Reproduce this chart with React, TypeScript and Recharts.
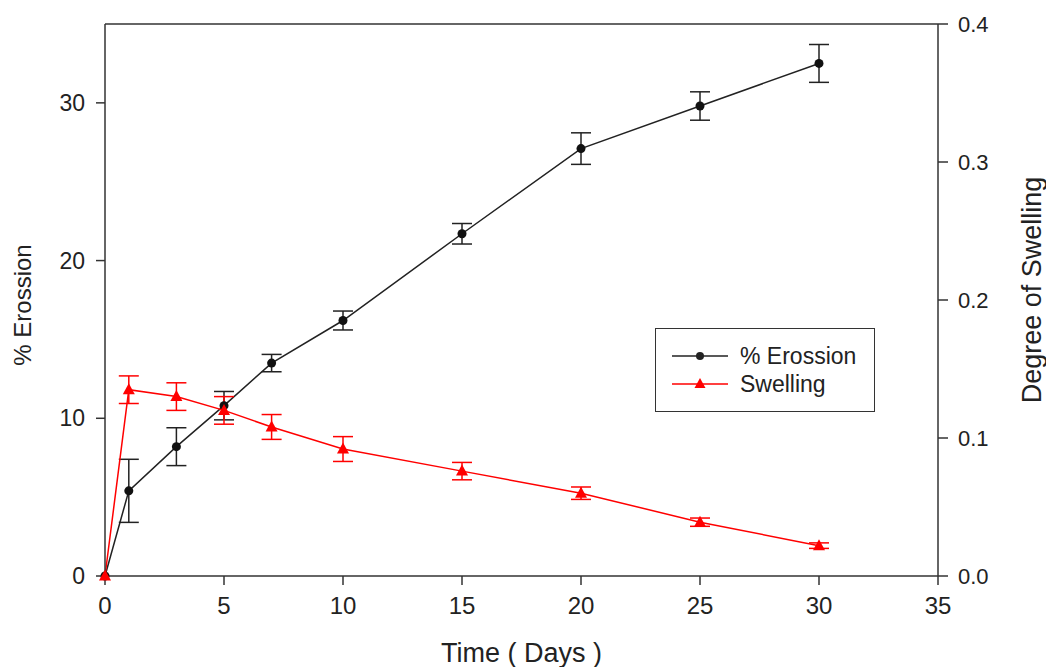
import { LineChart, Line, XAxis, YAxis, ErrorBar, ReferenceLine, Legend } from 'recharts';

/* --- data --- */

const days = [0, 1, 3, 5, 7, 10, 15, 20, 25, 30];
const erosion = [0, 5.4, 8.2, 10.8, 13.5, 16.2, 21.7, 27.1, 29.8, 32.5];
const erosionErr = [0, 2.0, 1.2, 0.9, 0.55, 0.6, 0.65, 1.0, 0.9, 1.2];
const swelling = [0, 0.135, 0.13, 0.12, 0.108, 0.092, 0.076, 0.06, 0.039, 0.022];
const swellingErr = [0, 0.01, 0.01, 0.01, 0.009, 0.009, 0.0063, 0.0045, 0.003, 0.002];

const xTicks = [0, 5, 10, 15, 20, 25, 30, 35];
const leftTicks = [0, 10, 20, 30];
const rightTicks = [0, 0.1, 0.2, 0.3, 0.4];

const data = days.map((d, i) => ({
    day: d,
    erosion: erosion[i],
    erosionErr: erosionErr[i],
    swelling: swelling[i],
    swellingErr: swellingErr[i],
}));

const FONT = "'Liberation Sans', Arial, sans-serif";
const AXIS = '#333';

function Triangle({ cx, cy, index }: any) {
    if (cx == null || cy == null) return null;
    return (
        <polygon
            key={`tri-${index}`}
            points={`${cx},${cy - 6.5} ${cx - 6},${cy + 4.5} ${cx + 6},${cy + 4.5}`}
            fill="#ff0000"
        />
    );
}

function LegendBox() {
    const rows = [
        { label: '% Erossion', color: '#222', marker: 'dot' },
        { label: 'Swelling', color: '#ff0000', marker: 'tri' },
    ];
    return (
        <div style={{ width: 220, height: 84, border: '1.5px solid #333', boxSizing: 'border-box', background: '#fff', position: 'relative' }}>
            {rows.map((r, i) => (
                <div key={r.label} style={{ position: 'absolute', left: 16, top: 14 + i * 28, height: 26, display: 'flex', alignItems: 'center' }}>
                    <svg width={56} height={24}>
                        <line x1={0} y1={12} x2={56} y2={12} stroke={r.color} strokeWidth={1.5} />
                        {r.marker === 'dot'
                            ? <circle cx={28} cy={12} r={4} fill={r.color} />
                            : <polygon points="28,6 22.5,16 33.5,16" fill={r.color} />}
                    </svg>
                    <span style={{ marginLeft: 12, fontFamily: FONT, fontSize: 23, color: '#222' }}>{r.label}</span>
                </div>
            ))}
        </div>
    );
}

export default function App() {
    return (
        <div style={{ position: 'absolute', left: 0, top: 0, width: 1046, height: 667, background: '#fff' }}>
            <LineChart width={1046} height={667} data={data} margin={{ top: 24, right: 0, left: 0, bottom: 0 }}>
                <XAxis
                    dataKey="day"
                    type="number"
                    domain={[0, 35]}
                    ticks={xTicks}
                    height={91}
                    tickSize={9}
                    tickMargin={12}
                    stroke={AXIS}
                    strokeWidth={1.5}
                    tick={{ fontSize: 24, fontFamily: FONT, fill: '#222' }}
                    label={{ value: 'Time ( Days )', position: 'insideBottom', offset: 5, fontSize: 27, fontFamily: FONT, fill: '#222' }}
                />
                <YAxis
                    yAxisId="left"
                    domain={[0, 35]}
                    ticks={leftTicks}
                    width={105}
                    tickSize={9}
                    tickMargin={11}
                    stroke={AXIS}
                    strokeWidth={1.5}
                    tick={{ fontSize: 23, fontFamily: FONT, fill: '#222' }}
                    label={{ value: '% Erossion', angle: -90, position: 'insideLeft', offset: 22, dy: 5, fontSize: 24, fontFamily: FONT, fill: '#222', style: { textAnchor: 'middle' } }}
                />
                <YAxis
                    yAxisId="right"
                    orientation="right"
                    domain={[0, 0.4]}
                    ticks={rightTicks}
                    width={108}
                    tickSize={10}
                    tickMargin={10}
                    stroke={AXIS}
                    strokeWidth={1.5}
                    tickFormatter={(v: number) => v.toFixed(1)}
                    tick={{ fontSize: 22, fontFamily: FONT, fill: '#222' }}
                    label={{ value: 'Degree of Swelling', angle: -90, position: 'insideRight', offset: 15, dy: -10, fontSize: 27, fontFamily: FONT, fill: '#222', style: { textAnchor: 'middle' } }}
                />
                <ReferenceLine yAxisId="left" y={35} stroke={AXIS} strokeWidth={1.5} />
                <Line
                    yAxisId="left"
                    dataKey="erosion"
                    name="% Erossion"
                    stroke="#222"
                    strokeWidth={1.5}
                    dot={{ r: 4.5, fill: '#111', stroke: 'none' }}
                    isAnimationActive={false}
                >
                    <ErrorBar dataKey="erosionErr" direction="y" width={10} stroke="#222" strokeWidth={1.5} />
                </Line>
                <Line
                    yAxisId="right"
                    dataKey="swelling"
                    name="Swelling"
                    stroke="#ff0000"
                    strokeWidth={1.5}
                    dot={<Triangle />}
                    isAnimationActive={false}
                >
                    <ErrorBar dataKey="swellingErr" direction="y" width={10} stroke="#ff0000" strokeWidth={1.5} />
                </Line>
                <Legend
                    layout="vertical"
                    align="center"
                    verticalAlign="middle"
                    content={() => <LegendBox />}
                    wrapperStyle={{ position: 'absolute', left: 655, top: 328, width: 220, height: 84 }}
                />
            </LineChart>
        </div>
    );
}
